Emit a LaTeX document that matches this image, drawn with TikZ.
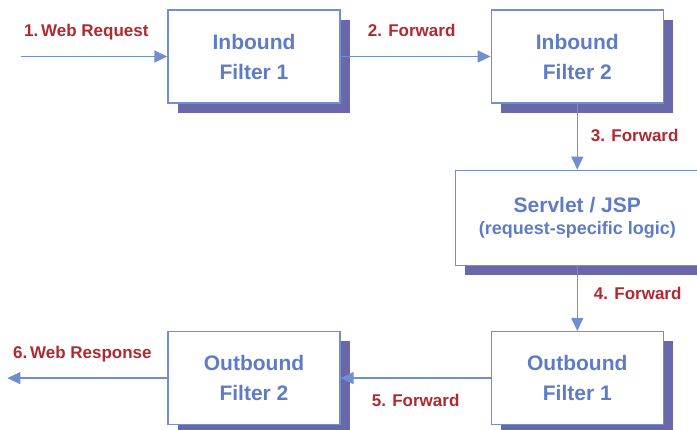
\documentclass[tikz,border=0pt]{standalone}
\usepackage{fontspec}
\setmainfont{Liberation Sans}
\usepackage{xcolor}
\usepackage{tikz}
\usetikzlibrary{arrows.meta}
\usetikzlibrary{positioning, shadows}

\definecolor{boxblue}{RGB}{112,142,208}
\definecolor{textblue}{RGB}{94,124,198}
\definecolor{shadowblue}{RGB}{104,104,170}
\definecolor{labelred}{RGB}{178,40,48}

\begin{document}
\begin{tikzpicture}[x=1pt, y=-1pt,
    filter/.style={draw=boxblue, line width=1.3pt, fill=white,
      minimum width=172pt, minimum height=93pt, inner sep=0pt,
      align=center, text=textblue, font=\fontsize{21}{30}\selectfont\bfseries,
      drop shadow={shadow xshift=9.5pt, shadow yshift=-9.5pt,
        fill=shadowblue, opacity=1}},
    servletbox/.style={filter, minimum width=244pt, minimum height=95pt,
      font=\fontsize{21}{22}\selectfont\bfseries},
    flow/.style={draw=boxblue, line width=1.3pt,
      -{Triangle[length=13pt, width=12pt]}},
    lbl/.style={text=labelred, font=\fontsize{17}{20}\selectfont\bfseries,
      inner sep=0pt}]
  \useasboundingbox (0,0) rectangle (697,429);

  \node[filter] (in1) at (254,56.5) {Inbound\\Filter 1};
  \node[filter, right=150pt of in1] (in2) {Inbound\\Filter 2};
  \node[servletbox, below=66pt of in2] (servlet)
    {Servlet / JSP\\{\fontsize{18}{20}\selectfont(request-specific logic)}};
  \node[filter, below=65pt of servlet] (out1) {Outbound\\Filter 1};
  \node[filter, left=150pt of out1] (out2) {Outbound\\Filter 2};
  \coordinate[left=146pt of in1.west] (request);
  \coordinate[left=160pt of out2.west] (response);

  % request path
  \draw[flow] (request) -- (in1.west)
    node[lbl, midway, anchor=base, xshift=-8pt, yshift=20pt] {1.\,Web Request};
  \draw[flow] (in1.east) -- (in2.west)
    node[lbl, midway, anchor=base, xshift=-4pt, yshift=20pt] {2. Forward};
  \draw[flow] (in2.south) -- (servlet.north)
    node[lbl, midway, anchor=base west, xshift=13pt, yshift=-5pt] {3. Forward};

  % response path
  \draw[flow] (servlet.south) -- (out1.north)
    node[lbl, midway, anchor=base west, xshift=16pt, yshift=-1.5pt] {4. Forward};
  \draw[flow] (out1.west) -- (out2.east)
    node[lbl, midway, anchor=base, yshift=-28pt] {5. Forward};
  \draw[flow] (out2.west) -- (response)
    node[lbl, midway, anchor=base, xshift=-5pt, yshift=20pt] {6.\,Web Response};
\end{tikzpicture}
\end{document}
